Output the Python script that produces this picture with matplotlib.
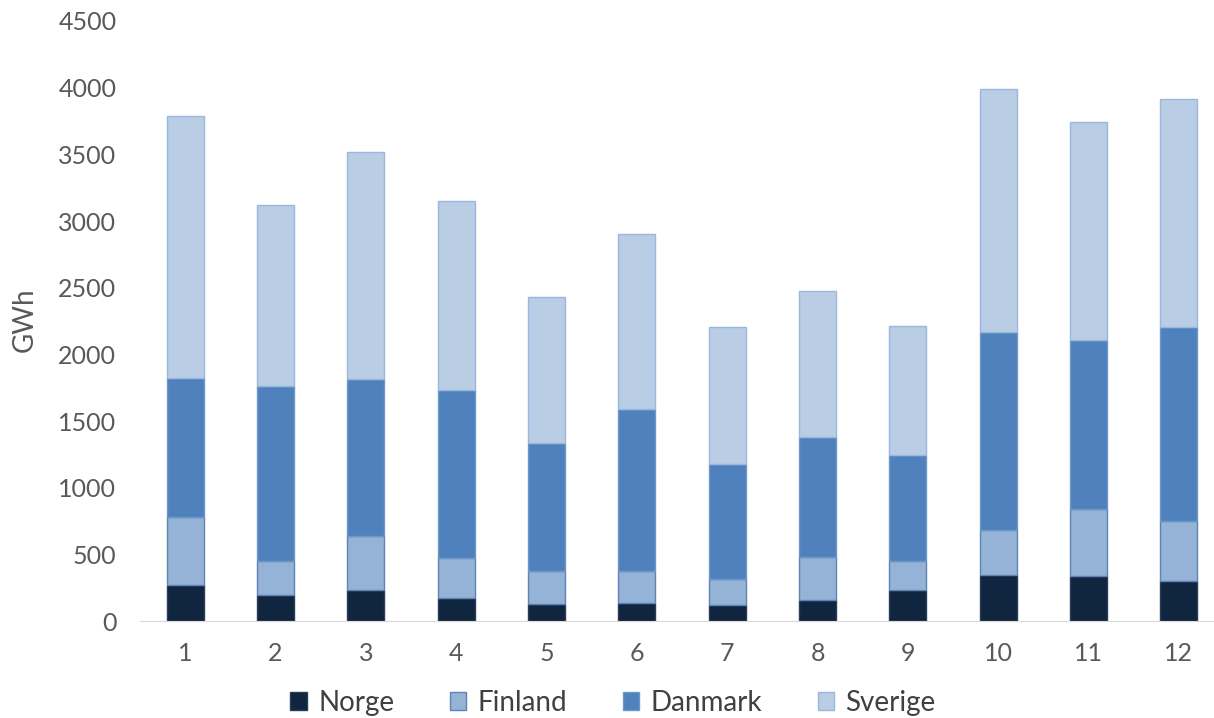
import matplotlib
matplotlib.use("Agg")
import matplotlib.pyplot as plt
import numpy as np

months = ["1", "2", "3", "4", "5", "6", "7", "8", "9", "10", "11", "12"]
norge = [270, 195, 232, 172, 127, 135, 120, 157, 232, 345, 337, 300]
finland = [510, 255, 405, 300, 248, 240, 195, 323, 218, 337, 503, 450]
danmark = [1042, 1312, 1178, 1260, 960, 1215, 862, 900, 795, 1485, 1267, 1455]
sverige = [1965, 1358, 1702, 1418, 1095, 1312, 1028, 1095, 967, 1823, 1635, 1710]

series = [("Norge", norge, "#10253F", "#2a3d58"),
          ("Finland", finland, "#95B3D7", "#5f84b3"),
          ("Danmark", danmark, "#4F81BD", "#6e98c9"),
          ("Sverige", sverige, "#B9CDE5", "#9ab7dc")]

plt.rcParams['font.family'] = ['Lato', 'DejaVu Sans']
fig = plt.figure(figsize=(12.14, 7.18), dpi=100)
ax = fig.add_axes([0.1153, 0.135, 0.893, 0.8358])

x = np.arange(1, len(months) + 1)
bottom = np.zeros(len(months))
for name, vals, fc, ec in series:
    vals = np.array(vals, dtype=float)
    ax.bar(x, vals, 0.41, bottom=bottom, color=fc, edgecolor=ec, linewidth=1.0, label=name)
    bottom += vals

ax.set_xlim(0.5, 12.5)
ax.set_ylim(0, 4500)
ax.set_yticks(np.arange(0, 4501, 500))
ax.set_xticks(x)
ax.set_xticklabels(months)
ax.tick_params(axis='both', length=0, labelsize=18, colors='#595959')
ax.tick_params(axis='y', pad=17)
ax.tick_params(axis='x', pad=15)
for s in ['top', 'right', 'left']:
    ax.spines[s].set_visible(False)
ax.spines['bottom'].set_color('#d9d9d9')
fig.text(25 / 1214, 1 - 320 / 718, "GWh", rotation=90, fontsize=20, color='#595959',
         ha='center', va='center')

leg = fig.legend(loc='center', bbox_to_anchor=(0.505, 1 - 703 / 718), ncol=4, frameon=False,
                 fontsize=20, handlelength=0.6, handleheight=0.6, handletextpad=0.4,
                 columnspacing=2.0, labelcolor='#404040')

fig.savefig("out.png", dpi=100)
